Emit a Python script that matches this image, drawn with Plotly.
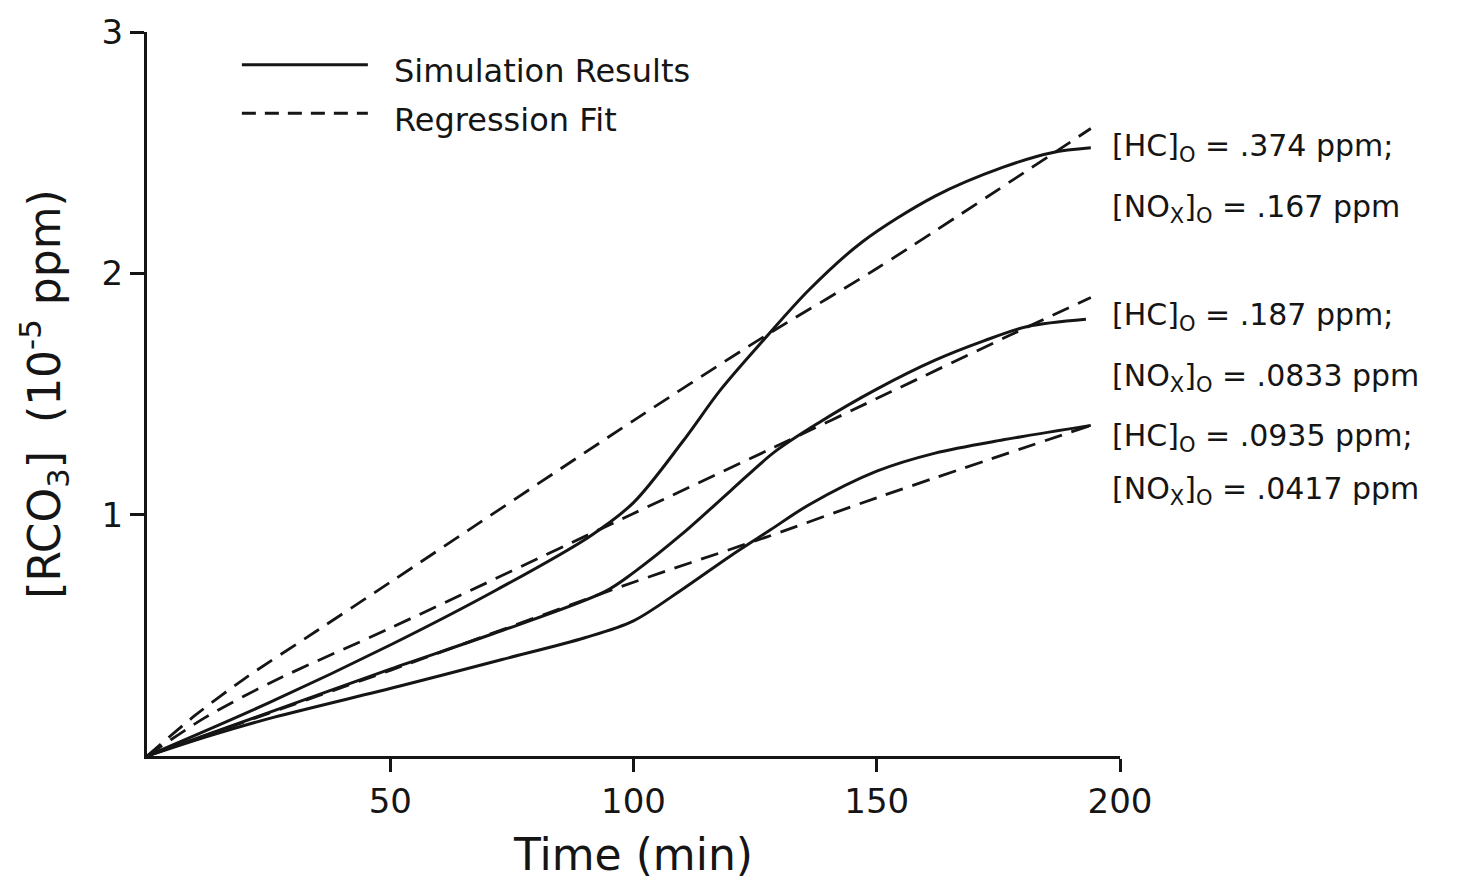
import plotly.graph_objects as go

# ---- data (time in min, [RCO3] in 1e-5 ppm) ----
t_sim_hi = [0, 25, 50, 72, 91, 100, 110, 118, 127, 136, 147, 162, 176, 186, 194]
y_sim_hi = [0, 0.22, 0.46, 0.69, 0.91, 1.05, 1.30, 1.52, 1.73, 1.93, 2.13, 2.32, 2.44, 2.50, 2.52]
t_fit_hi = [0, 10, 20, 35, 50, 100, 127, 150, 194]
y_fit_hi = [0, 0.17, 0.32, 0.52, 0.72, 1.39, 1.74, 2.02, 2.60]

t_sim_mid = [0, 25, 50, 73, 94, 100, 110, 120, 129, 138, 150, 162, 172, 181, 193]
y_sim_mid = [0, 0.18, 0.36, 0.52, 0.68, 0.76, 0.92, 1.10, 1.26, 1.38, 1.52, 1.64, 1.72, 1.78, 1.81]
t_fit_mid = [0, 12, 26, 50, 100, 129, 153, 177, 194]
y_fit_mid = [0, 0.16, 0.31, 0.53, 1.005, 1.28, 1.51, 1.74, 1.90]

t_sim_lo = [0, 13, 26, 52, 73, 90, 100, 110, 120, 128, 136, 150, 162, 176, 194]
y_sim_lo = [0, 0.085, 0.16, 0.29, 0.40, 0.49, 0.56, 0.69, 0.83, 0.935, 1.04, 1.18, 1.255, 1.31, 1.37]
t_fit_lo = [0, 50, 100, 127, 150, 194]
y_fit_lo = [0, 0.355, 0.72, 0.905, 1.07, 1.37]

x_ticks = [50, 100, 150, 200]
y_ticks = [1, 2, 3]

case_labels = [
    ("[HC]<sub>O</sub> = .374 ppm;", "[NO<sub>X</sub>]<sub>O</sub> = .167 ppm"),
    ("[HC]<sub>O</sub> = .187 ppm;", "[NO<sub>X</sub>]<sub>O</sub> = .0833 ppm"),
    ("[HC]<sub>O</sub> = .0935 ppm;", "[NO<sub>X</sub>]<sub>O</sub> = .0417 ppm"),
]
case_label_y = [(2.52, 2.27), (1.82, 1.57), (1.32, 1.10)]

legend_names = ["Simulation Results", "Regression Fit"]

INK = "#151515"
FONT = "DejaVu Sans"
DASH = "18px,10px"

fig = go.Figure()

for t, y in [(t_sim_hi, y_sim_hi), (t_sim_mid, y_sim_mid), (t_sim_lo, y_sim_lo)]:
    fig.add_trace(go.Scatter(x=t, y=y, mode="lines", showlegend=False,
                             line=dict(color=INK, width=3, shape="spline", smoothing=0.9)))
for t, y in [(t_fit_hi, y_fit_hi), (t_fit_mid, y_fit_mid), (t_fit_lo, y_fit_lo)]:
    fig.add_trace(go.Scatter(x=t, y=y, mode="lines", showlegend=False,
                             line=dict(color=INK, width=2.8, dash=DASH, shape="spline", smoothing=0.8)))

# custom legend
fig.add_shape(type="line", xref="x", yref="y", x0=19.5, x1=45.4, y0=2.864, y1=2.864,
              line=dict(color=INK, width=3))
fig.add_shape(type="line", xref="x", yref="y", x0=19.5, x1=45.4, y0=2.663, y1=2.663,
              line=dict(color=INK, width=3, dash="14px,9px"))
for name, yy in zip(legend_names, [2.84, 2.635]):
    fig.add_annotation(x=50.4, y=yy, xref="x", yref="y", text=name, showarrow=False,
                       xanchor="left", yanchor="middle",
                       font=dict(family=FONT, size=32, color=INK))

# case labels on right
for (l1, l2), (y1, y2) in zip(case_labels, case_label_y):
    for txt, yy in [(l1, y1), (l2, y2)]:
        fig.add_annotation(x=197.9, y=yy, xref="x", yref="y", text=txt, showarrow=False,
                           xanchor="left", yanchor="middle",
                           font=dict(family=FONT, size=30, color=INK))

fig.update_layout(
    width=1480, height=884,
    margin=dict(l=147, r=360, t=22, b=127),
    plot_bgcolor="white", paper_bgcolor="white",
    font=dict(family=FONT, color=INK),
)
fig.update_xaxes(range=[0, 200], tickvals=x_ticks, ticktext=[str(v) for v in x_ticks],
                 showgrid=False, zeroline=False, showline=True, linecolor=INK, linewidth=3,
                 ticks="outside", ticklen=13, tickwidth=2.5, tickcolor=INK,
                 tickfont=dict(family=FONT, size=34, color=INK),
                 title=dict(text="Time (min)", font=dict(family=FONT, size=44, color=INK), standoff=20))
fig.update_yaxes(range=[0, 3], tickvals=y_ticks, ticktext=[str(v) for v in y_ticks],
                 showgrid=False, zeroline=False, showline=True, linecolor=INK, linewidth=3,
                 ticks="outside", ticklen=14, tickwidth=2.5, tickcolor=INK,
                 tickfont=dict(family=FONT, size=34, color=INK),
                 title=dict(text="[RCO<sub>3</sub>]  (10<sup>-5</sup> ppm)",
                            font=dict(family=FONT, size=44, color=INK), standoff=28))

fig.write_html("out.html")
